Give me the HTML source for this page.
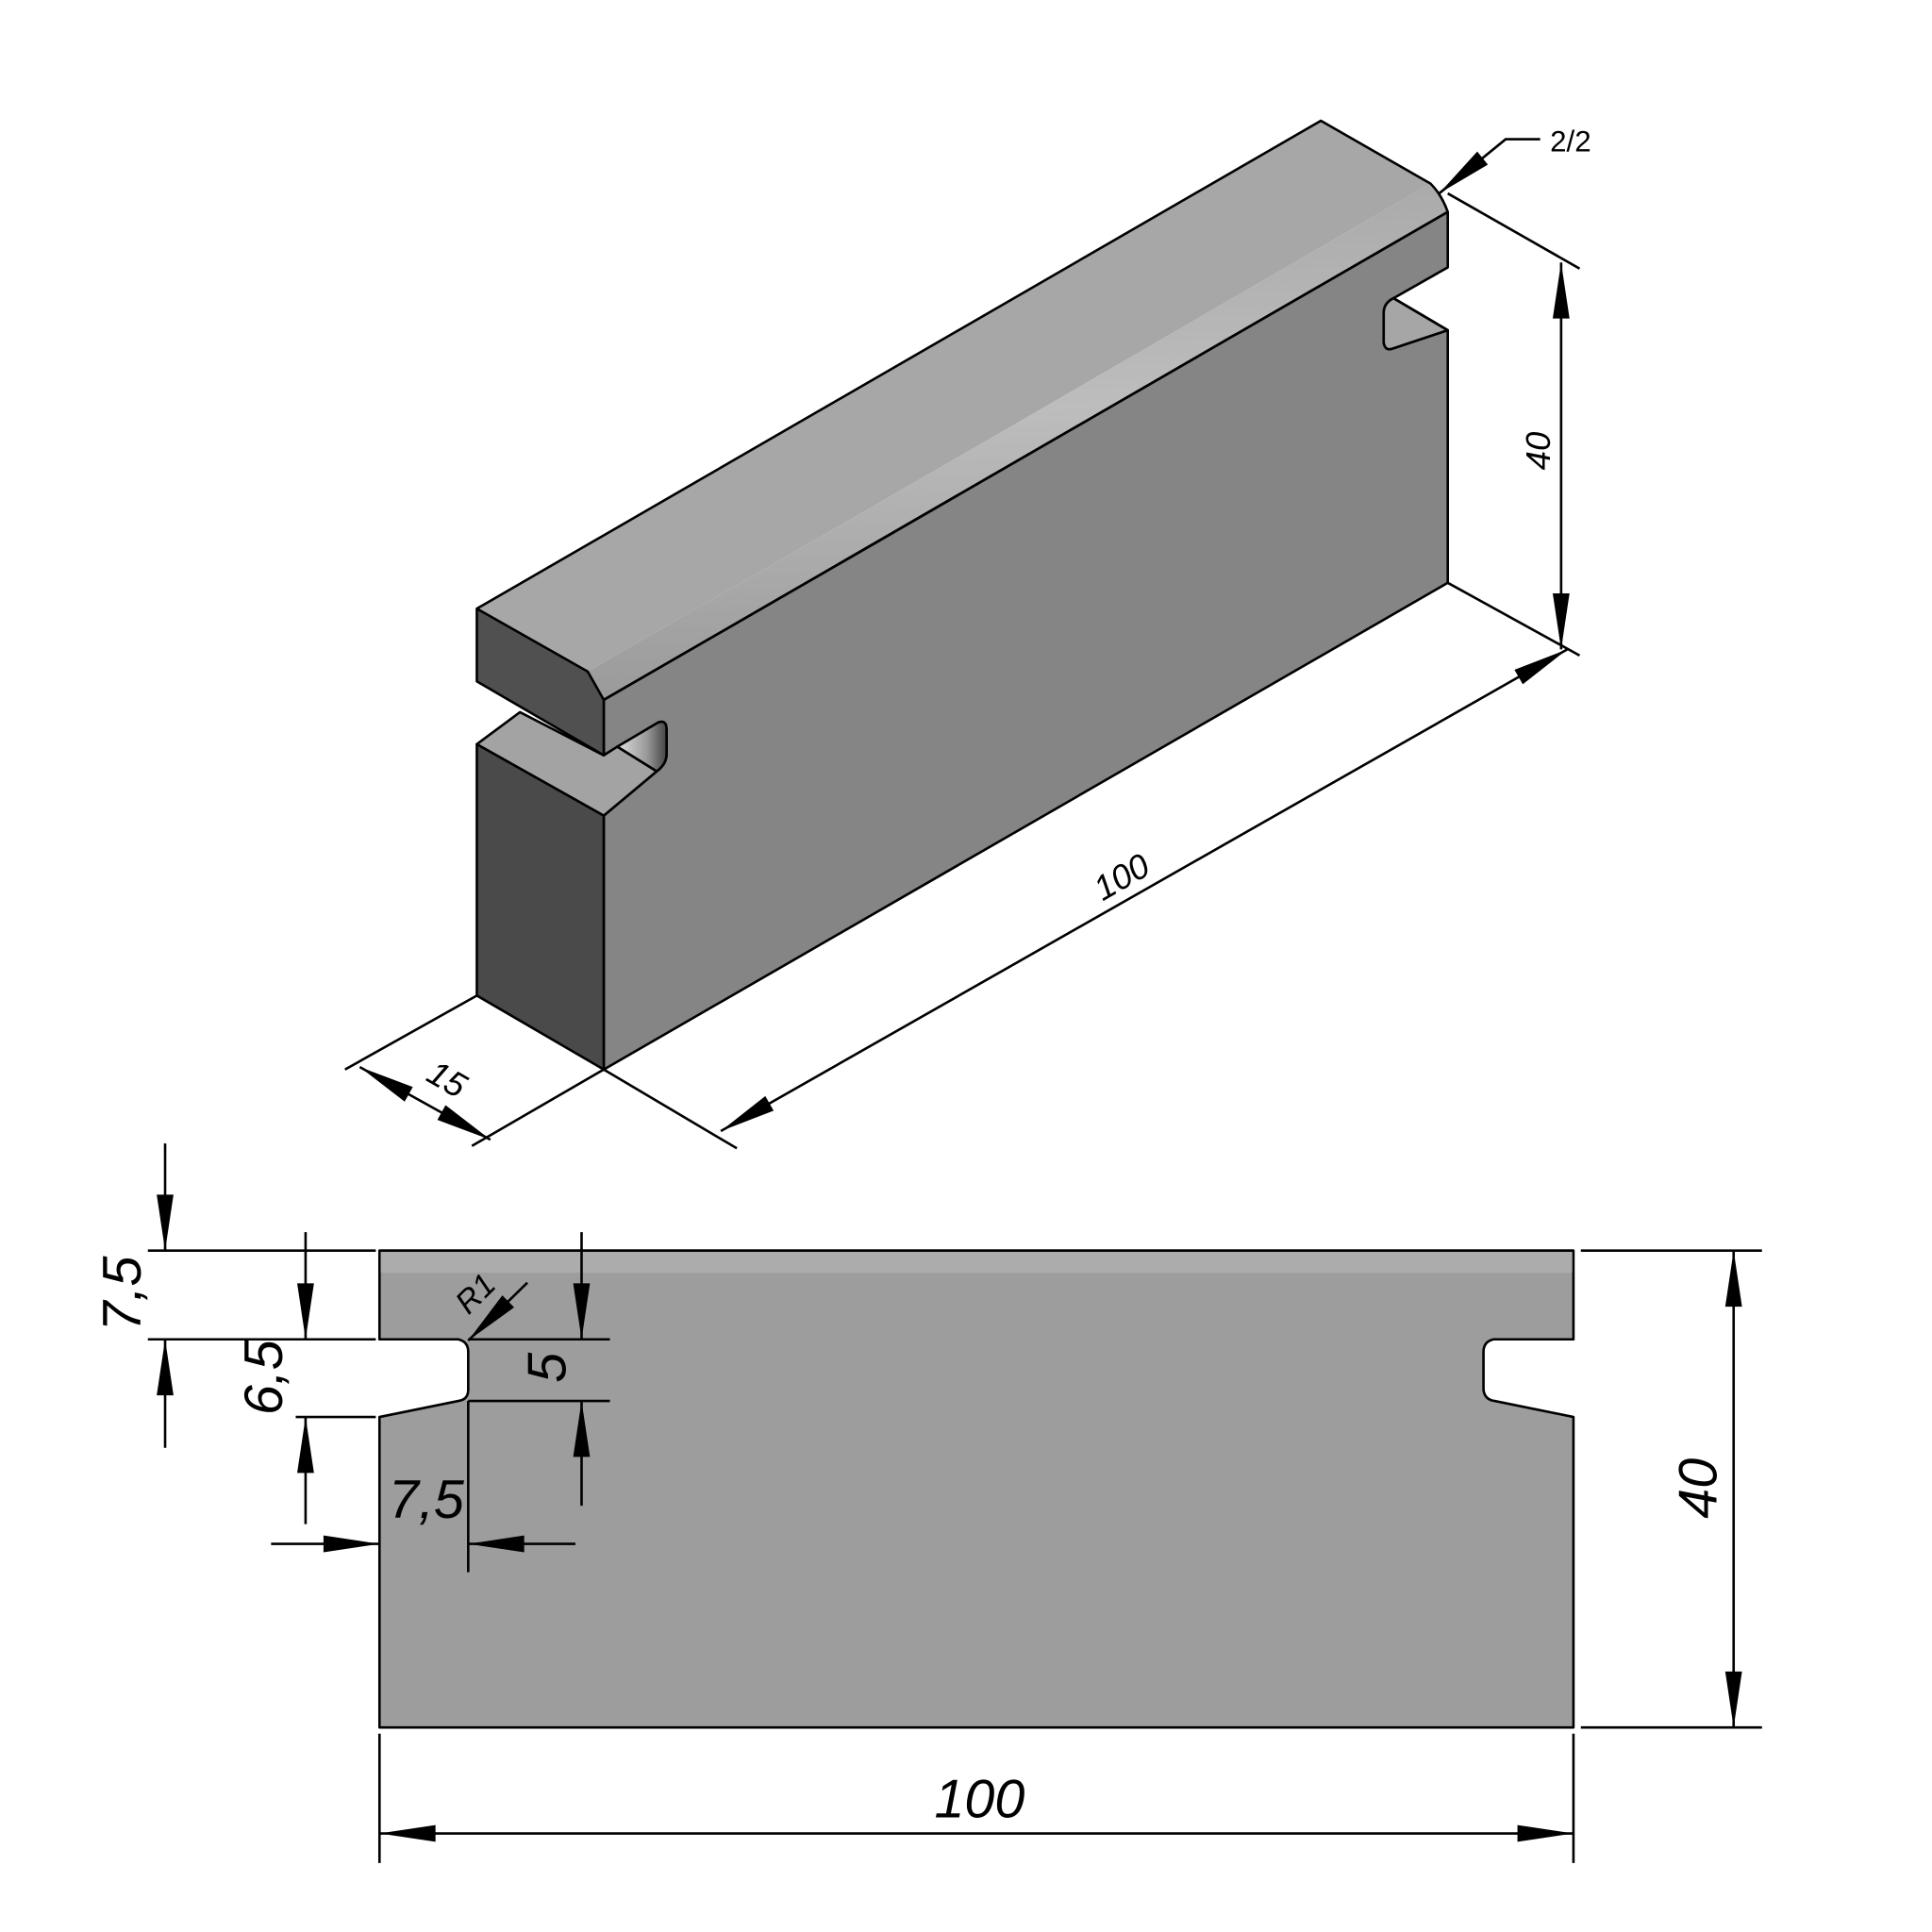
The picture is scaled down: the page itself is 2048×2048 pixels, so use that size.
<!DOCTYPE html>
<html><head><meta charset="utf-8"><style>html,body{margin:0;padding:0;background:#fff}svg{display:block}</style></head>
<body>
<svg width="2048" height="2048" viewBox="0 0 1568 1568" xmlns="http://www.w3.org/2000/svg">
<defs>
<marker id="a" markerUnits="userSpaceOnUse" markerWidth="50" markerHeight="20" viewBox="-42 -8 44 16" refX="0" refY="0" orient="auto-start-reverse">
<path d="M0,0 L-40,-6 L-40,6 Z" fill="#000"/>
</marker>
<linearGradient id="ch" x1="0" y1="0" x2="0.03" y2="1">
<stop offset="0" stop-color="#a9a9a9"/><stop offset="0.45" stop-color="#bdbdbd"/><stop offset="1" stop-color="#9a9a9a"/>
</linearGradient>
<linearGradient id="nt" x1="0" y1="0" x2="1" y2="0">
<stop offset="0" stop-color="#e0e0e0"/><stop offset="0.6" stop-color="#999"/><stop offset="1" stop-color="#444"/>
</linearGradient>
</defs>
<g stroke="#000" stroke-width="2" stroke-linejoin="round">
<!-- top face -->
<polygon points="387,493 1072,98 1161,149 477,545" fill="#a7a7a7" stroke="none"/>
<!-- chamfer band -->
<path d="M477,545 L1161,149 Q1170,158 1175,172 L490,568 Z" fill="url(#ch)" stroke="none"/>
<!-- long side face -->
<path d="M490,568 L1175,172 L1175,217 L1131,242 Q1123,246 1123,254 L1123,278 Q1124,285 1130,283 L1175,268 L1175,473 L490,868 L490,662 L533,626 Q541,620 541,612 L541,592 Q540,583 533,587 L490,613 Z" fill="#858585"/>
<!-- back notch inner top -->
<path d="M1131,242 L1175,268 L1130,283 Q1124,285 1123,278 L1123,254 Q1123,246 1131,242 Z" fill="#a6a6a6"/>
<line x1="1131" y1="242" x2="1175" y2="268"/>
<!-- front notch lower top -->
<polygon points="387,604 422,578 490,613 501,606 533,626 490,662" fill="#a3a3a3"/>
<!-- notch curved wall -->
<path d="M501,606 L533,587 Q541,583 541,592 L541,612 Q541,620 533,626 Z" fill="url(#nt)"/>
<!-- upper lip front -->
<polygon points="387,494 477,545 490,568 490,613 387,553" fill="#505050"/>
<!-- lower left face -->
<polygon points="387,604 490,662 490,868 387,808" fill="#4a4a4a"/>
<!-- outline edges -->
<path d="M387,494 L1072,98 L1161,149 Q1170,158 1175,172" fill="none"/>
<line x1="490" y1="568" x2="1175" y2="172"/>
</g>
<!-- iso dims -->
<g stroke="#000" stroke-width="2" fill="none">
<line x1="1175" y1="157" x2="1282" y2="218"/>
<line x1="1175" y1="473" x2="1282" y2="532"/>
<line x1="1267" y1="213" x2="1267" y2="527" marker-start="url(#a)" marker-end="url(#a)"/>
<line x1="490" y1="868" x2="598" y2="932"/>
<line x1="585" y1="918" x2="1272" y2="527" marker-start="url(#a)" marker-end="url(#a)"/>
<line x1="387" y1="808" x2="280" y2="868"/>
<line x1="490" y1="868" x2="383" y2="930"/>
<line x1="292" y1="866" x2="398" y2="925" marker-start="url(#a)" marker-end="url(#a)"/>
<polyline points="1168,157 1222,113 1250,113" marker-start="url(#a)"/>
</g>
<g font-family="Liberation Sans, sans-serif" font-style="italic" fill="#000">
<text x="0" y="0" font-size="28" text-anchor="middle" transform="translate(1258,366) rotate(-90)">40</text>
<text x="0" y="0" font-size="28" text-anchor="middle" transform="translate(915,720) rotate(-30)">100</text>
<text x="0" y="0" font-size="28" text-anchor="middle" transform="translate(358,884) rotate(30)">15</text>
<text x="1258" y="123" font-size="24" font-style="normal">2/2</text>
</g>
<!-- bottom view -->
<g stroke="#000" stroke-width="2" stroke-linejoin="round">
<path d="M308,1015 L1277,1015 L1277,1087 L1212,1087 Q1204,1089 1204,1097 L1204,1128 Q1205,1136 1213,1137 L1277,1150 L1277,1402 L308,1402 L308,1150 L372,1137 Q380,1136 380,1128 L380,1097 Q380,1089 372,1087 L308,1087 Z" fill="#9d9d9d"/>
</g>
<rect x="309" y="1016" width="967" height="17" fill="#acacac"/>
<line x1="308" y1="1015" x2="1277" y2="1015" stroke="#000" stroke-width="2"/>
<g stroke="#000" stroke-width="2" fill="none">
<line x1="120" y1="1015" x2="305" y2="1015"/>
<line x1="120" y1="1087" x2="305" y2="1087"/>
<line x1="134" y1="928" x2="134" y2="1015" marker-end="url(#a)"/>
<line x1="134" y1="1175" x2="134" y2="1087" marker-end="url(#a)"/>
<line x1="240" y1="1150" x2="305" y2="1150"/>
<line x1="248" y1="1000" x2="248" y2="1087" marker-end="url(#a)"/>
<line x1="248" y1="1237" x2="248" y2="1150" marker-end="url(#a)"/>
<line x1="380" y1="1087" x2="495" y2="1087"/>
<line x1="380" y1="1137" x2="495" y2="1137"/>
<line x1="472" y1="1000" x2="472" y2="1087" marker-end="url(#a)"/>
<line x1="472" y1="1222" x2="472" y2="1137" marker-end="url(#a)"/>
<line x1="380" y1="1137" x2="380" y2="1276"/>
<line x1="220" y1="1253" x2="308" y2="1253" marker-end="url(#a)"/>
<line x1="467" y1="1253" x2="380" y2="1253" marker-end="url(#a)"/>
<line x1="428" y1="1041" x2="380" y2="1088" marker-end="url(#a)"/>
<line x1="1283" y1="1015" x2="1430" y2="1015"/>
<line x1="1283" y1="1402" x2="1430" y2="1402"/>
<line x1="1407" y1="1015" x2="1407" y2="1402" marker-start="url(#a)" marker-end="url(#a)"/>
<line x1="308" y1="1407" x2="308" y2="1512"/>
<line x1="1277" y1="1407" x2="1277" y2="1512"/>
<line x1="308" y1="1488" x2="1277" y2="1488" marker-start="url(#a)" marker-end="url(#a)"/>
</g>
<g font-family="Liberation Sans, sans-serif" font-style="italic" fill="#000" font-size="44" text-anchor="middle">
<text transform="translate(114,1050) rotate(-90)">7,5</text>
<text transform="translate(229,1118) rotate(-90)">6,5</text>
<text transform="translate(459,1110) rotate(-90)">5</text>
<text x="346" y="1232">7,5</text>
<text transform="translate(1393,1208) rotate(-90)">40</text>
<text x="795" y="1475">100</text>
<text font-size="26" transform="translate(392,1056) rotate(-45)">R1</text>
</g>
</svg>
</body></html>
